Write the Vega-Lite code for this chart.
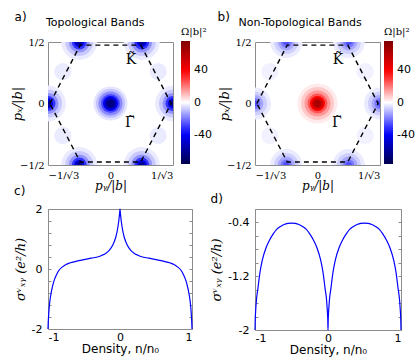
{
  "$schema": "https://vega.github.io/schema/vega-lite/v6.json",
  "padding": {"left": 11, "top": 10, "right": 2, "bottom": 1},
  "config": {
    "view": {"stroke": "#8c8c8c", "strokeWidth": 1},
    "axis": {"grid": false, "domain": false, "labelColor": "#000", "titleColor": "#000", "tickColor": "#8c8c8c"},
    "title": {"font": "DejaVu Sans", "fontWeight": "normal", "color": "#000", "subtitleFont": "DejaVu Sans", "subtitleColor": "#000"}
  },
  "datasets": {
    "blobs": [
      {"p": "a", "x": 0, "y": 0, "r": 0.138, "v": -4},
      {"p": "a", "x": 0, "y": 0, "r": 0.118, "v": -9},
      {"p": "a", "x": 0, "y": 0, "r": 0.098, "v": -17},
      {"p": "a", "x": 0, "y": 0, "r": 0.077, "v": -27},
      {"p": "a", "x": 0, "y": 0, "r": 0.061, "v": -40},
      {"p": "a", "x": 0, "y": 0, "r": 0.045, "v": -55},
      {"p": "a", "x": 0, "y": 0, "r": 0.028, "v": -65},
      {"p": "a", "x": -0.44, "y": 0.26, "r": 0.07, "v": -3},
      {"p": "a", "x": 0.44, "y": 0.26, "r": 0.07, "v": -3},
      {"p": "a", "x": -0.44, "y": -0.26, "r": 0.07, "v": -3},
      {"p": "a", "x": 0.44, "y": -0.26, "r": 0.07, "v": -3},
      {"p": "a", "x": -0.5774, "y": 0, "r": 0.146, "v": -3},
      {"p": "a", "x": -0.5774, "y": 0, "r": 0.114, "v": -8},
      {"p": "a", "x": -0.5774, "y": 0, "r": 0.085, "v": -16},
      {"p": "a", "x": -0.5774, "y": 0, "r": 0.061, "v": -30},
      {"p": "a", "x": -0.5774, "y": 0, "r": 0.041, "v": -45},
      {"p": "a", "x": -0.5774, "y": 0, "r": 0.024, "v": -58},
      {"p": "a", "x": 0.5774, "y": 0, "r": 0.146, "v": -3},
      {"p": "a", "x": 0.5774, "y": 0, "r": 0.114, "v": -8},
      {"p": "a", "x": 0.5774, "y": 0, "r": 0.085, "v": -16},
      {"p": "a", "x": 0.5774, "y": 0, "r": 0.061, "v": -30},
      {"p": "a", "x": 0.5774, "y": 0, "r": 0.041, "v": -45},
      {"p": "a", "x": 0.5774, "y": 0, "r": 0.024, "v": -58},
      {"p": "a", "x": -0.2887, "y": 0.5, "r": 0.146, "v": -3},
      {"p": "a", "x": -0.2887, "y": 0.5, "r": 0.114, "v": -8},
      {"p": "a", "x": -0.2887, "y": 0.5, "r": 0.085, "v": -16},
      {"p": "a", "x": -0.2887, "y": 0.5, "r": 0.061, "v": -30},
      {"p": "a", "x": -0.2887, "y": 0.5, "r": 0.041, "v": -45},
      {"p": "a", "x": -0.2887, "y": 0.5, "r": 0.024, "v": -58},
      {"p": "a", "x": 0.2887, "y": 0.5, "r": 0.146, "v": -3},
      {"p": "a", "x": 0.2887, "y": 0.5, "r": 0.114, "v": -8},
      {"p": "a", "x": 0.2887, "y": 0.5, "r": 0.085, "v": -16},
      {"p": "a", "x": 0.2887, "y": 0.5, "r": 0.061, "v": -30},
      {"p": "a", "x": 0.2887, "y": 0.5, "r": 0.041, "v": -45},
      {"p": "a", "x": 0.2887, "y": 0.5, "r": 0.024, "v": -58},
      {"p": "a", "x": -0.2887, "y": -0.5, "r": 0.146, "v": -3},
      {"p": "a", "x": -0.2887, "y": -0.5, "r": 0.114, "v": -8},
      {"p": "a", "x": -0.2887, "y": -0.5, "r": 0.085, "v": -16},
      {"p": "a", "x": -0.2887, "y": -0.5, "r": 0.061, "v": -30},
      {"p": "a", "x": -0.2887, "y": -0.5, "r": 0.041, "v": -45},
      {"p": "a", "x": -0.2887, "y": -0.5, "r": 0.024, "v": -58},
      {"p": "a", "x": 0.2887, "y": -0.5, "r": 0.146, "v": -3},
      {"p": "a", "x": 0.2887, "y": -0.5, "r": 0.114, "v": -8},
      {"p": "a", "x": 0.2887, "y": -0.5, "r": 0.085, "v": -16},
      {"p": "a", "x": 0.2887, "y": -0.5, "r": 0.061, "v": -30},
      {"p": "a", "x": 0.2887, "y": -0.5, "r": 0.041, "v": -45},
      {"p": "a", "x": 0.2887, "y": -0.5, "r": 0.024, "v": -58},
      {"p": "b", "x": 0, "y": 0, "r": 0.163, "v": 3},
      {"p": "b", "x": 0, "y": 0, "r": 0.134, "v": 8},
      {"p": "b", "x": 0, "y": 0, "r": 0.106, "v": 15},
      {"p": "b", "x": 0, "y": 0, "r": 0.081, "v": 25},
      {"p": "b", "x": 0, "y": 0, "r": 0.061, "v": 38},
      {"p": "b", "x": 0, "y": 0, "r": 0.045, "v": 52},
      {"p": "b", "x": 0, "y": 0, "r": 0.028, "v": 63},
      {"p": "b", "x": -0.44, "y": 0.26, "r": 0.07, "v": -2},
      {"p": "b", "x": 0.44, "y": 0.26, "r": 0.07, "v": -2},
      {"p": "b", "x": -0.44, "y": -0.26, "r": 0.07, "v": -2},
      {"p": "b", "x": 0.44, "y": -0.26, "r": 0.07, "v": -2},
      {"p": "b", "x": -0.5774, "y": 0, "r": 0.13, "v": -3},
      {"p": "b", "x": -0.5774, "y": 0, "r": 0.098, "v": -7},
      {"p": "b", "x": -0.5774, "y": 0, "r": 0.069, "v": -13},
      {"p": "b", "x": -0.5774, "y": 0, "r": 0.045, "v": -20},
      {"p": "b", "x": -0.5774, "y": 0, "r": 0.024, "v": -26},
      {"p": "b", "x": 0.5774, "y": 0, "r": 0.13, "v": -3},
      {"p": "b", "x": 0.5774, "y": 0, "r": 0.098, "v": -7},
      {"p": "b", "x": 0.5774, "y": 0, "r": 0.069, "v": -13},
      {"p": "b", "x": 0.5774, "y": 0, "r": 0.045, "v": -20},
      {"p": "b", "x": 0.5774, "y": 0, "r": 0.024, "v": -26},
      {"p": "b", "x": -0.2887, "y": 0.5, "r": 0.13, "v": -3},
      {"p": "b", "x": -0.2887, "y": 0.5, "r": 0.098, "v": -7},
      {"p": "b", "x": -0.2887, "y": 0.5, "r": 0.069, "v": -13},
      {"p": "b", "x": -0.2887, "y": 0.5, "r": 0.045, "v": -20},
      {"p": "b", "x": -0.2887, "y": 0.5, "r": 0.024, "v": -26},
      {"p": "b", "x": 0.2887, "y": 0.5, "r": 0.13, "v": -3},
      {"p": "b", "x": 0.2887, "y": 0.5, "r": 0.098, "v": -7},
      {"p": "b", "x": 0.2887, "y": 0.5, "r": 0.069, "v": -13},
      {"p": "b", "x": 0.2887, "y": 0.5, "r": 0.045, "v": -20},
      {"p": "b", "x": 0.2887, "y": 0.5, "r": 0.024, "v": -26},
      {"p": "b", "x": -0.2887, "y": -0.5, "r": 0.13, "v": -3},
      {"p": "b", "x": -0.2887, "y": -0.5, "r": 0.098, "v": -7},
      {"p": "b", "x": -0.2887, "y": -0.5, "r": 0.069, "v": -13},
      {"p": "b", "x": -0.2887, "y": -0.5, "r": 0.045, "v": -20},
      {"p": "b", "x": -0.2887, "y": -0.5, "r": 0.024, "v": -26},
      {"p": "b", "x": 0.2887, "y": -0.5, "r": 0.13, "v": -3},
      {"p": "b", "x": 0.2887, "y": -0.5, "r": 0.098, "v": -7},
      {"p": "b", "x": 0.2887, "y": -0.5, "r": 0.069, "v": -13},
      {"p": "b", "x": 0.2887, "y": -0.5, "r": 0.045, "v": -20},
      {"p": "b", "x": 0.2887, "y": -0.5, "r": 0.024, "v": -26}
    ],
    "hex": [
      {"i": 0, "x": -0.56, "y": 0},
      {"i": 1, "x": -0.28, "y": 0.475},
      {"i": 2, "x": 0.28, "y": 0.475},
      {"i": 3, "x": 0.56, "y": 0},
      {"i": 4, "x": 0.28, "y": -0.475},
      {"i": 5, "x": -0.28, "y": -0.475},
      {"i": 6, "x": -0.56, "y": 0}
    ],
    "lab": [
      {"t": "K̃", "x": 0.19, "y": 0.35},
      {"t": "Γ̃", "x": 0.18, "y": -0.16}
    ],
    "curveC": [
      {"x": -1, "y": -2}, {"x": -0.997, "y": -1.8}, {"x": -0.99, "y": -1.5}, {"x": -0.98, "y": -1.2},
      {"x": -0.97, "y": -1.0}, {"x": -0.95, "y": -0.72}, {"x": -0.92, "y": -0.42}, {"x": -0.88, "y": -0.18},
      {"x": -0.85, "y": -0.05}, {"x": -0.8, "y": 0.07}, {"x": -0.75, "y": 0.15}, {"x": -0.7, "y": 0.2},
      {"x": -0.6, "y": 0.26}, {"x": -0.5, "y": 0.31}, {"x": -0.4, "y": 0.36}, {"x": -0.3, "y": 0.41},
      {"x": -0.25, "y": 0.46}, {"x": -0.2, "y": 0.52}, {"x": -0.15, "y": 0.62}, {"x": -0.1, "y": 0.8},
      {"x": -0.06, "y": 1.05}, {"x": -0.04, "y": 1.25}, {"x": -0.02, "y": 1.55}, {"x": -0.01, "y": 1.75},
      {"x": -0.004, "y": 1.9}, {"x": 0, "y": 2},
      {"x": 0.004, "y": 1.9}, {"x": 0.01, "y": 1.75}, {"x": 0.02, "y": 1.55}, {"x": 0.04, "y": 1.25},
      {"x": 0.06, "y": 1.05}, {"x": 0.1, "y": 0.8}, {"x": 0.15, "y": 0.62}, {"x": 0.2, "y": 0.52},
      {"x": 0.25, "y": 0.46}, {"x": 0.3, "y": 0.41}, {"x": 0.4, "y": 0.36}, {"x": 0.5, "y": 0.31},
      {"x": 0.6, "y": 0.26}, {"x": 0.7, "y": 0.2}, {"x": 0.75, "y": 0.15}, {"x": 0.8, "y": 0.07},
      {"x": 0.85, "y": -0.05}, {"x": 0.88, "y": -0.18}, {"x": 0.92, "y": -0.42}, {"x": 0.95, "y": -0.72},
      {"x": 0.97, "y": -1.0}, {"x": 0.98, "y": -1.2}, {"x": 0.99, "y": -1.5}, {"x": 0.997, "y": -1.8},
      {"x": 1, "y": -2}
    ],
    "curveD": [
      {"x": -1, "y": -2}, {"x": -0.997, "y": -1.85}, {"x": -0.99, "y": -1.7}, {"x": -0.98, "y": -1.55},
      {"x": -0.96, "y": -1.38}, {"x": -0.93, "y": -1.13}, {"x": -0.9, "y": -0.96}, {"x": -0.85, "y": -0.78},
      {"x": -0.8, "y": -0.66}, {"x": -0.75, "y": -0.57}, {"x": -0.7, "y": -0.5}, {"x": -0.65, "y": -0.46},
      {"x": -0.6, "y": -0.43}, {"x": -0.55, "y": -0.415}, {"x": -0.5, "y": -0.41}, {"x": -0.45, "y": -0.415},
      {"x": -0.4, "y": -0.43}, {"x": -0.35, "y": -0.46}, {"x": -0.3, "y": -0.5}, {"x": -0.25, "y": -0.57},
      {"x": -0.2, "y": -0.66}, {"x": -0.15, "y": -0.78}, {"x": -0.1, "y": -0.96}, {"x": -0.07, "y": -1.13},
      {"x": -0.04, "y": -1.38}, {"x": -0.02, "y": -1.55}, {"x": -0.01, "y": -1.7}, {"x": -0.003, "y": -1.85},
      {"x": 0, "y": -2},
      {"x": 0.003, "y": -1.85}, {"x": 0.01, "y": -1.7}, {"x": 0.02, "y": -1.55}, {"x": 0.04, "y": -1.38},
      {"x": 0.07, "y": -1.13}, {"x": 0.1, "y": -0.96}, {"x": 0.15, "y": -0.78}, {"x": 0.2, "y": -0.66},
      {"x": 0.25, "y": -0.57}, {"x": 0.3, "y": -0.5}, {"x": 0.35, "y": -0.46}, {"x": 0.4, "y": -0.43},
      {"x": 0.45, "y": -0.415}, {"x": 0.5, "y": -0.41}, {"x": 0.55, "y": -0.415}, {"x": 0.6, "y": -0.43},
      {"x": 0.65, "y": -0.46}, {"x": 0.7, "y": -0.5}, {"x": 0.75, "y": -0.57}, {"x": 0.8, "y": -0.66},
      {"x": 0.85, "y": -0.78}, {"x": 0.9, "y": -0.96}, {"x": 0.93, "y": -1.13}, {"x": 0.96, "y": -1.38},
      {"x": 0.98, "y": -1.55}, {"x": 0.99, "y": -1.7}, {"x": 0.997, "y": -1.85}, {"x": 1, "y": -2}
    ]
  },
  "columns": 2,
  "bounds": "flush",
  "spacing": {"row": 44, "column": 63},
  "resolve": {"scale": {"color": "independent"}},
  "concat": [
    {
      "width": 125, "height": 123,
      "title": {"text": "a)", "anchor": "start", "fontSize": 12, "dx": 3, "subtitle": "\u200b\u00a0\u00a0\u00a0\u00a0\u00a0\u00a0\u00a0\u00a0\u00a0Topological Bands", "subtitleFontSize": 11, "subtitlePadding": -7, "offset": -2},
      "layer": [
        {
          "data": {"name": "blobs"},
          "transform": [{"filter": "datum.p == 'a'"}],
          "mark": {"type": "circle", "clip": true, "opacity": 1, "strokeWidth": 0},
          "encoding": {
            "x": {"field": "x", "type": "quantitative", "scale": {"domain": [-0.5774, 0.5774], "nice": false, "zero": false},
              "axis": {"values": [-0.5773, 0, 0.5773], "labelExpr": "datum.value < -0.1 ? '−1/√3' : (datum.value > 0.1 ? '1/√3' : '0')", "ticks": false, "labelFlush": true, "labelFont": "DejaVu Serif", "labelFontSize": 10, "labelPadding": 5, "title": "pᵧ/|b|", "titleFont": "DejaVu Serif", "titleFontStyle": "italic", "titleFontWeight": "normal", "titleFontSize": 12, "titlePadding": 0}},
            "y": {"field": "y", "type": "quantitative", "scale": {"domain": [-0.5, 0.5], "nice": false, "zero": false},
              "axis": {"values": [-0.5, 0, 0.5], "labelExpr": "datum.value > 0.1 ? '1/2' : (datum.value < -0.1 ? '−1/2' : '0')", "ticks": false, "labelFont": "DejaVu Serif", "labelFontSize": 10, "labelPadding": 4, "title": "pₓ/|b|", "titleFont": "DejaVu Serif", "titleFontStyle": "italic", "titleFontWeight": "normal", "titleFontSize": 13, "titlePadding": -5}},
            "size": {"field": "r", "type": "quantitative", "scale": {"type": "pow", "exponent": 2, "domain": [0, 0.2], "range": [0, 2421]}, "legend": null},
            "color": {"field": "v", "type": "quantitative",
              "scale": {"domain": [-75, -37.5, 0, 37.5, 75], "range": ["#00004c", "#0000ff", "#ffffff", "#ff0000", "#800000"], "interpolate": "rgb"},
              "legend": {"title": "Ω|b|²", "values": [40, 0, -40], "labelExpr": "replace(datum.label, '−', '-')", "orient": "none", "legendX": 133, "legendY": -15, "direction": "vertical", "gradientLength": 123, "gradientThickness": 9, "gradientStrokeWidth": 0, "titleFont": "DejaVu Serif", "titleFontSize": 10, "titleFontWeight": "normal", "titlePadding": 4, "labelFont": "DejaVu Sans", "labelFontSize": 11, "labelOffset": 4, "padding": 0}},
            "order": {"field": "r", "sort": "descending"}
          }
        },
        {
          "data": {"name": "hex"},
          "mark": {"type": "line", "color": "#000", "strokeWidth": 1.4, "strokeDash": [5, 4]},
          "encoding": {"x": {"field": "x", "type": "quantitative"}, "y": {"field": "y", "type": "quantitative"}, "order": {"field": "i"}}
        },
        {
          "data": {"name": "lab"},
          "mark": {"type": "text", "font": "DejaVu Serif", "fontSize": 14},
          "encoding": {"x": {"field": "x", "type": "quantitative"}, "y": {"field": "y", "type": "quantitative"}, "text": {"field": "t"}}
        }
      ]
    },
    {
      "width": 125, "height": 123,
      "title": {"text": "b)", "anchor": "start", "fontSize": 12, "dx": -1, "subtitle": "\u200b\u00a0\u00a0\u00a0\u00a0\u00a0\u00a0Non-Topological Bands", "subtitleFontSize": 11, "subtitlePadding": -7, "offset": -2},
      "layer": [
        {
          "data": {"name": "blobs"},
          "transform": [{"filter": "datum.p == 'b'"}],
          "mark": {"type": "circle", "clip": true, "opacity": 1, "strokeWidth": 0},
          "encoding": {
            "x": {"field": "x", "type": "quantitative", "scale": {"domain": [-0.5774, 0.5774], "nice": false, "zero": false},
              "axis": {"values": [-0.5773, 0, 0.5773], "labelExpr": "datum.value < -0.1 ? '−1/√3' : (datum.value > 0.1 ? '1/√3' : '0')", "ticks": false, "labelFlush": true, "labelFont": "DejaVu Serif", "labelFontSize": 10, "labelPadding": 5, "title": "pᵧ/|b|", "titleFont": "DejaVu Serif", "titleFontStyle": "italic", "titleFontWeight": "normal", "titleFontSize": 12, "titlePadding": 0}},
            "y": {"field": "y", "type": "quantitative", "scale": {"domain": [-0.5, 0.5], "nice": false, "zero": false},
              "axis": {"values": [-0.5, 0, 0.5], "labelExpr": "datum.value > 0.1 ? '1/2' : (datum.value < -0.1 ? '−1/2' : '0')", "ticks": false, "labelFont": "DejaVu Serif", "labelFontSize": 10, "labelPadding": 4, "title": "pₓ/|b|", "titleFont": "DejaVu Serif", "titleFontStyle": "italic", "titleFontWeight": "normal", "titleFontSize": 13, "titlePadding": -5}},
            "size": {"field": "r", "type": "quantitative", "scale": {"type": "pow", "exponent": 2, "domain": [0, 0.2], "range": [0, 2421]}, "legend": null},
            "color": {"field": "v", "type": "quantitative",
              "scale": {"domain": [-75, -37.5, 0, 37.5, 75], "range": ["#00004c", "#0000ff", "#ffffff", "#ff0000", "#800000"], "interpolate": "rgb"},
              "legend": {"title": "Ω|b|²", "values": [40, 0, -40], "labelExpr": "replace(datum.label, '−', '-')", "orient": "none", "legendX": 129, "legendY": -15, "direction": "vertical", "gradientLength": 123, "gradientThickness": 9, "gradientStrokeWidth": 0, "titleFont": "DejaVu Serif", "titleFontSize": 10, "titleFontWeight": "normal", "titlePadding": 4, "labelFont": "DejaVu Sans", "labelFontSize": 11, "labelOffset": 4, "padding": 0}},
            "order": {"field": "r", "sort": "descending"}
          }
        },
        {
          "data": {"name": "hex"},
          "mark": {"type": "line", "color": "#000", "strokeWidth": 1.4, "strokeDash": [5, 4]},
          "encoding": {"x": {"field": "x", "type": "quantitative"}, "y": {"field": "y", "type": "quantitative"}, "order": {"field": "i"}}
        },
        {
          "data": {"name": "lab"},
          "mark": {"type": "text", "font": "DejaVu Serif", "fontSize": 14},
          "encoding": {"x": {"field": "x", "type": "quantitative"}, "y": {"field": "y", "type": "quantitative"}, "text": {"field": "t"}}
        }
      ]
    },
    {
      "width": 144, "height": 120,
      "title": {"text": "c)", "anchor": "start", "fontSize": 12, "offset": 5},
      "data": {"name": "curveC"},
      "resolve": {"axis": {"y": "independent"}},
      "layer": [
        {
          "mark": {"type": "line", "color": "#0000ff", "strokeWidth": 1.2, "interpolate": "monotone"},
          "encoding": {
            "x": {"field": "x", "type": "quantitative", "scale": {"domain": [-1, 1], "nice": false},
              "axis": {"values": [-1, 0, 1], "labelExpr": "datum.value < -0.5 ? '-1' : (datum.value > 0.5 ? '1' : '0')", "ticks": false, "labelFont": "DejaVu Sans", "labelFontSize": 11, "labelPadding": 2, "title": "Density, n/n₀", "titleFont": "DejaVu Sans", "titleFontSize": 12, "titleFontWeight": "normal", "titlePadding": 1}},
            "y": {"field": "y", "type": "quantitative", "scale": {"domain": [-2, 2], "nice": false},
              "axis": {"orient": "left", "values": [-2, -1.6, -1.2, -0.8, -0.4, 0, 0.4, 0.8, 1.2, 1.6, 2], "labelExpr": "datum.value == 2 ? '2' : (datum.value == 0 ? '0' : (datum.value == -2 ? '-2' : ''))", "tickSize": -3, "labelPadding": 9, "labelFont": "DejaVu Sans", "labelFontSize": 11, "title": "σᵛₓᵧ (e²/h)", "titleFont": "DejaVu Serif", "titleFontStyle": "italic", "titleFontWeight": "normal", "titleFontSize": 13, "titlePadding": 4}}
          }
        },
        {
          "mark": {"type": "line", "strokeOpacity": 0},
          "encoding": {
            "x": {"field": "x", "type": "quantitative"},
            "y": {"field": "y", "type": "quantitative",
              "axis": {"orient": "right", "values": [-2, -1.6, -1.2, -0.8, -0.4, 0, 0.4, 0.8, 1.2, 1.6, 2], "labels": false, "tickSize": -3, "title": null}}
          }
        }
      ]
    },
    {
      "width": 146, "height": 121,
      "title": {"text": "d)", "anchor": "start", "fontSize": 12, "offset": 3},
      "data": {"name": "curveD"},
      "resolve": {"axis": {"y": "independent"}},
      "layer": [
        {
          "mark": {"type": "line", "color": "#0000ff", "strokeWidth": 1.2, "interpolate": "monotone"},
          "encoding": {
            "x": {"field": "x", "type": "quantitative", "scale": {"domain": [-1, 1], "nice": false},
              "axis": {"values": [-1, 0, 1], "labelExpr": "datum.value < -0.5 ? '-1' : (datum.value > 0.5 ? '1' : '0')", "ticks": false, "labelFont": "DejaVu Sans", "labelFontSize": 11, "labelPadding": 2, "title": "Density, n/n₀", "titleFont": "DejaVu Sans", "titleFontSize": 12, "titleFontWeight": "normal", "titlePadding": 1}},
            "y": {"field": "y", "type": "quantitative", "scale": {"domain": [-2, -0.2], "nice": false, "zero": false},
              "axis": {"orient": "left", "values": [-2, -1.8, -1.6, -1.4, -1.2, -1, -0.8, -0.6, -0.4, -0.2], "labelExpr": "abs(datum.value + 0.4) < 0.01 ? '-0.4' : (abs(datum.value + 1.2) < 0.01 ? '-1.2' : (abs(datum.value + 2) < 0.01 ? '-2' : ''))", "tickSize": -3, "labelPadding": 9, "labelFont": "DejaVu Sans", "labelFontSize": 11, "title": "σᵛₓᵧ (e²/h)", "titleFont": "DejaVu Serif", "titleFontStyle": "italic", "titleFontWeight": "normal", "titleFontSize": 13, "titlePadding": 4}}
          }
        },
        {
          "mark": {"type": "line", "strokeOpacity": 0},
          "encoding": {
            "x": {"field": "x", "type": "quantitative"},
            "y": {"field": "y", "type": "quantitative",
              "axis": {"orient": "right", "values": [-2, -1.8, -1.6, -1.4, -1.2, -1, -0.8, -0.6, -0.4, -0.2], "labels": false, "tickSize": -3, "title": null}}
          }
        }
      ]
    }
  ]
}
